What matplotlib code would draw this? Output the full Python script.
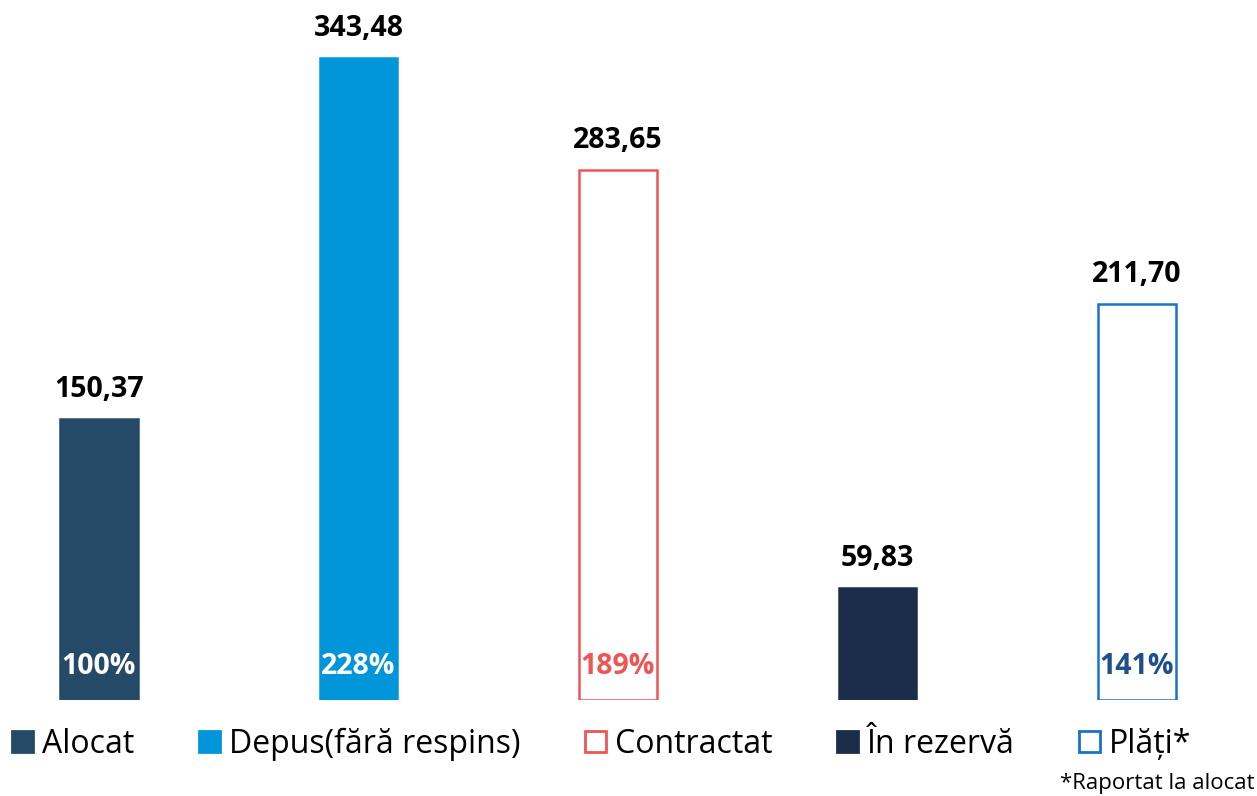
import matplotlib
matplotlib.use("Agg")
import matplotlib.pyplot as plt
from matplotlib.patches import Patch

plt.rcParams['font.family'] = ['Open Sans', 'DejaVu Sans']

categories = ["Alocat", "Depus(fără respins)", "Contractat", "În rezervă", "Plăți*"]
values = [150.37, 343.48, 283.65, 59.83, 211.70]
value_labels = ["150,37", "343,48", "283,65", "59,83", "211,70"]
pct_labels = ["100%", "228%", "189%", "", "141%"]
footnote = "*Raportat la alocat"

fills = ["#254A68", "#0096D9", "white", "#1B2D4A", "white"]
edges = ["#254A68", "#0096D9", "#EE5555", "#1B2D4A", "#1A73C4"]
pct_colors = ["white", "white", "#EE5555", "white", "#1F4E8C"]

W, H = 1257, 796
fig = plt.figure(figsize=(W / 100, H / 100), dpi=100)
ax = fig.add_axes([0, 96 / H, 1, 700 / H])

x = list(range(len(categories)))
bars = ax.bar(x, values, width=0.30, color=fills, edgecolor=edges, linewidth=1.8)

spacing = 259.5
ax.set_xlim(-99 / spacing, (W - 99) / spacing)
ax.set_ylim(0, 700 / 1.869)
ax.axis('off')

for xi, v, lab in zip(x, values, value_labels):
    ax.annotate(lab, (xi, v), xytext=(0, 11), textcoords='offset points',
                ha='center', va='bottom', fontsize=20.5, fontweight='bold', color='black')

for xi, lab, c in zip(x, pct_labels, pct_colors):
    if lab:
        ax.annotate(lab, (xi, 0), xytext=(0, 24), textcoords='offset points',
                    ha='center', va='center', fontsize=20.5, fontweight='bold', color=c)

handles = [Patch(facecolor=f, edgecolor=e, linewidth=2) for f, e in zip(fills, edges)]
fig.legend(handles, categories, loc='center left', bbox_to_anchor=(12 / W, (796 - 744) / H),
           ncol=5, frameon=False, fontsize=23, handlelength=0.66, handleheight=0.66,
           handletextpad=0.28, columnspacing=2.02, borderaxespad=0, borderpad=0)

fig.text(0.998, (796 - 783) / H, footnote, ha='right', va='center', fontsize=16)

fig.savefig("out.png", dpi=100)
